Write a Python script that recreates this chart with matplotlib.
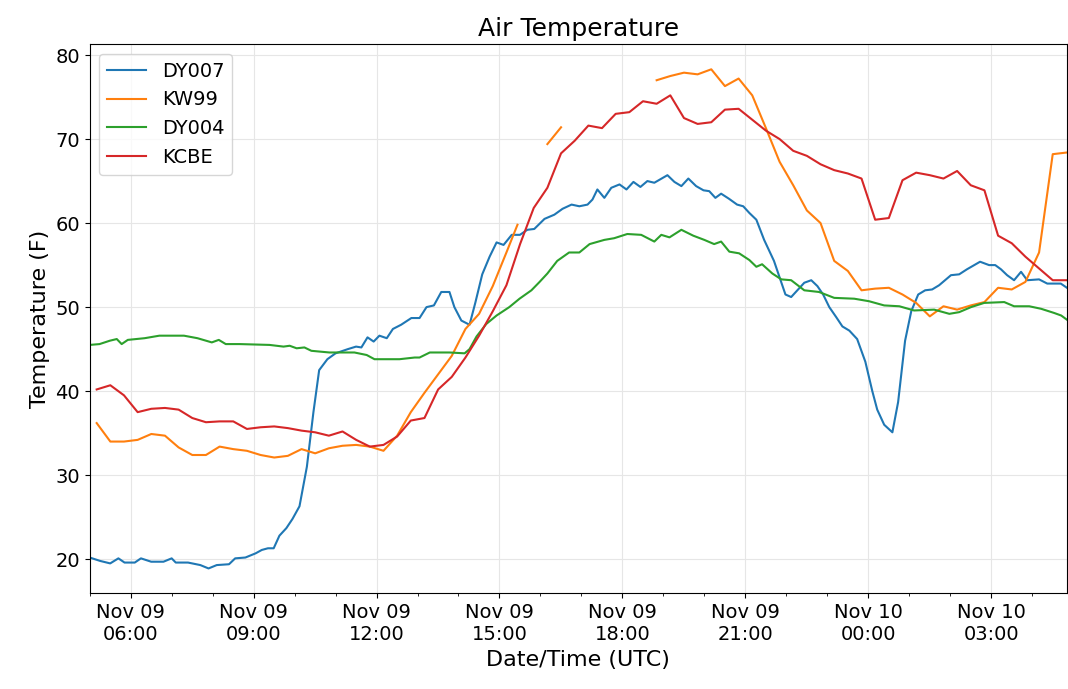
import numpy as np
import pandas as pd
import matplotlib
matplotlib.use("Agg")
import matplotlib.pyplot as plt
import matplotlib.dates as mdates

base = pd.Timestamp("2018-11-09 00:00")

# hours after Nov 09 00:00 UTC
dy007_t = [5.0, 5.25, 5.5, 5.7, 5.85, 6.1, 6.25, 6.5, 6.8, 7.0, 7.1, 7.4, 7.7, 7.9, 8.1, 8.4, 8.55, 8.8, 9.05, 9.2,
           9.35, 9.49, 9.63, 9.8, 9.95, 10.12, 10.3, 10.46, 10.6, 10.8, 11.0, 11.3, 11.5, 11.63, 11.78, 11.93, 12.07,
           12.25, 12.4, 12.6, 12.85, 13.05, 13.22, 13.4, 13.58, 13.78, 13.9, 14.07, 14.27, 14.41, 14.58, 14.76, 14.93,
           15.1, 15.3, 15.5, 15.68, 15.85, 16.1, 16.34, 16.54, 16.76, 16.95, 17.15, 17.27, 17.39, 17.56, 17.73, 17.93,
           18.1, 18.27, 18.44, 18.61, 18.78, 19.1, 19.27, 19.44, 19.61, 19.8, 19.98, 20.12, 20.27, 20.41, 20.6, 20.8,
           20.95, 21.1, 21.27, 21.46, 21.7, 21.98, 22.12, 22.27, 22.44, 22.61, 22.76, 22.9, 23.05, 23.22, 23.37, 23.54,
           23.73, 23.93, 24.1, 24.22, 24.39, 24.59, 24.73, 24.9, 25.05, 25.22, 25.39, 25.56, 25.73, 26.02, 26.22,
           26.41, 26.73, 26.95, 27.1, 27.24, 27.39, 27.56, 27.73, 27.88, 28.17, 28.37, 28.7, 28.85]
dy007_v = [20.2, 19.8, 19.5, 20.1, 19.6, 19.6, 20.1, 19.7, 19.7, 20.1, 19.6, 19.6, 19.3, 18.9, 19.3, 19.4, 20.1, 20.2,
           20.7, 21.1, 21.3, 21.3, 22.8, 23.7, 24.8, 26.3, 31.0, 37.5, 42.5, 43.8, 44.5, 45.0, 45.3, 45.2, 46.4, 45.9,
           46.6, 46.3, 47.4, 47.9, 48.7, 48.7, 50.0, 50.2, 51.8, 51.8, 50.0, 48.4, 47.9, 50.5, 53.9, 56.0, 57.7, 57.4,
           58.6, 58.6, 59.2, 59.3, 60.5, 61.0, 61.7, 62.2, 62.0, 62.2, 62.8, 64.0, 63.0, 64.2, 64.6, 64.0, 64.9, 64.3,
           65.0, 64.8, 65.7, 64.9, 64.4, 65.3, 64.4, 63.9, 63.8, 63.0, 63.5, 62.9, 62.2, 62.0, 61.2, 60.4, 58.0, 55.5,
           51.5, 51.2, 52.0, 52.9, 53.2, 52.5, 51.5, 50.0, 48.8, 47.7, 47.2, 46.2, 43.5, 40.0, 37.8, 36.0, 35.1, 38.7,
           46.0, 49.5, 51.5, 52.0, 52.1, 52.6, 53.8, 53.9, 54.5, 55.4, 55.0, 55.0, 54.5, 53.8, 53.2, 54.2, 53.2, 53.3,
           52.8, 52.8, 52.3]

dy004_t = [5.0, 5.24, 5.49, 5.66, 5.78, 5.93, 6.34, 6.7, 7.3, 7.63, 7.98, 8.15, 8.32, 8.66, 9.39, 9.73, 9.88, 10.05,
           10.24, 10.41, 10.85, 11.46, 11.76, 11.95, 12.56, 12.93, 13.05, 13.3, 13.78, 14.15, 14.27, 14.44, 14.68,
           14.93, 15.24, 15.49, 15.78, 15.98, 16.17, 16.41, 16.7, 16.95, 17.2, 17.56, 17.8, 18.12, 18.46, 18.78,
           18.95, 19.15, 19.44, 19.73, 20.0, 20.24, 20.41, 20.61, 20.85, 21.1, 21.27, 21.41, 21.66, 21.88, 22.12,
           22.44, 22.8, 23.17, 23.66, 24.02, 24.39, 24.76, 25.12, 25.61, 25.98, 26.22, 26.51, 26.83, 27.32, 27.56,
           27.93, 28.22, 28.54, 28.71, 28.85]
dy004_v = [45.5, 45.6, 46.0, 46.2, 45.6, 46.1, 46.3, 46.6, 46.6, 46.3, 45.8, 46.1, 45.6, 45.6, 45.5, 45.3, 45.4, 45.1,
           45.2, 44.8, 44.6, 44.6, 44.3, 43.8, 43.8, 44.0, 44.0, 44.6, 44.6, 44.5, 45.0, 46.5, 48.0, 49.0, 50.0, 51.0,
           52.0, 53.0, 54.0, 55.5, 56.5, 56.5, 57.5, 58.0, 58.2, 58.7, 58.6, 57.8, 58.6, 58.3, 59.2, 58.5, 58.0, 57.5,
           57.8, 56.6, 56.4, 55.6, 54.8, 55.1, 54.0, 53.3, 53.2, 52.0, 51.8, 51.1, 51.0, 50.7, 50.2, 50.1, 49.6, 49.7,
           49.2, 49.4, 50.0, 50.5, 50.6, 50.1, 50.1, 49.8, 49.3, 49.0, 48.5]

# 20-minute station data (KW99 and KCBE)
stn_t = [5.17 + i / 3 for i in range(71)] + [28.85]
kcbe_v = [40.2, 40.7, 39.5, 37.5, 37.9, 38.0, 37.8, 36.8, 36.3, 36.4, 36.4, 35.5, 35.7, 35.8, 35.6, 35.3, 35.1, 34.7,
          35.2, 34.2, 33.4, 33.6, 34.6, 36.5, 36.8, 40.2, 41.7, 44.0, 46.6, 49.5, 52.6, 57.5, 61.8, 64.2, 68.3, 69.8,
          71.6, 71.3, 73.0, 73.2, 74.5, 74.2, 75.2, 72.5, 71.8, 72.0, 73.5, 73.6, 72.3, 71.0, 70.0, 68.6, 68.0, 67.0,
          66.3, 65.9, 65.3, 60.4, 60.6, 65.1, 66.0, 65.7, 65.3, 66.2, 64.5, 63.9, 58.5, 57.6, 56.0, 54.6, 53.2, 53.2]
nan = np.nan
kw99_v = [36.2, 34.0, 34.0, 34.2, 34.9, 34.7, 33.3, 32.4, 32.4, 33.4, 33.1, 32.9, 32.4, 32.1, 32.3, 33.1, 32.6, 33.2,
          33.5, 33.6, 33.4, 32.9, 34.7, 37.5, 39.8, 42.0, 44.2, 47.4, 49.2, 52.5, 56.5, 59.8, nan, 69.4, 71.4, nan,
          nan, nan, nan, nan, nan, 77.0, 77.5, 77.9, 77.7, 78.3, 76.3, 77.2, 75.2, 71.3, 67.3, 64.5, 61.5, 60.0, 55.5,
          54.3, 52.0, 52.2, 52.3, 51.5, 50.5, 48.9, 50.1, 49.7, 50.2, 50.6, 52.3, 52.1, 53.0, 56.5, 68.2, 68.4]
kw99_t = list(stn_t)
kw99_t[31] = 15.44  # last point before the gap


def to_time(h):
    return base + pd.to_timedelta(np.array(h), unit="h")


fig = plt.figure(figsize=(10.68, 6.89), dpi=100)
ax = fig.add_axes([0.084, 0.139, 0.915, 0.797])
ax.plot(to_time(dy007_t), dy007_v, color="tab:blue", label="DY007")
ax.plot(to_time(kw99_t), kw99_v, color="tab:orange", label="KW99")
ax.plot(to_time(dy004_t), dy004_v, color="tab:green", label="DY004")
ax.plot(to_time(stn_t), kcbe_v, color="tab:red", label="KCBE")

ax.set_xlim(to_time([5.0])[0], to_time([28.85])[0])
ax.set_ylim(15.95, 81.3)
ax.xaxis.set_major_locator(mdates.HourLocator(byhour=[0, 3, 6, 9, 12, 15, 18, 21]))
ax.xaxis.set_minor_locator(mdates.HourLocator())
ax.xaxis.set_major_formatter(mdates.DateFormatter("%b %d\n%H:%M"))
ax.grid(True, color="#e6e6e6", linewidth=0.8)
ax.tick_params(labelsize=14)
ax.set_title("Air Temperature", fontsize=18)
ax.set_xlabel("Date/Time (UTC)", fontsize=16)
ax.set_ylabel("Temperature (F)", fontsize=16)
ax.legend(loc="upper left", fontsize=14)
fig.savefig("out.png", dpi=100)
